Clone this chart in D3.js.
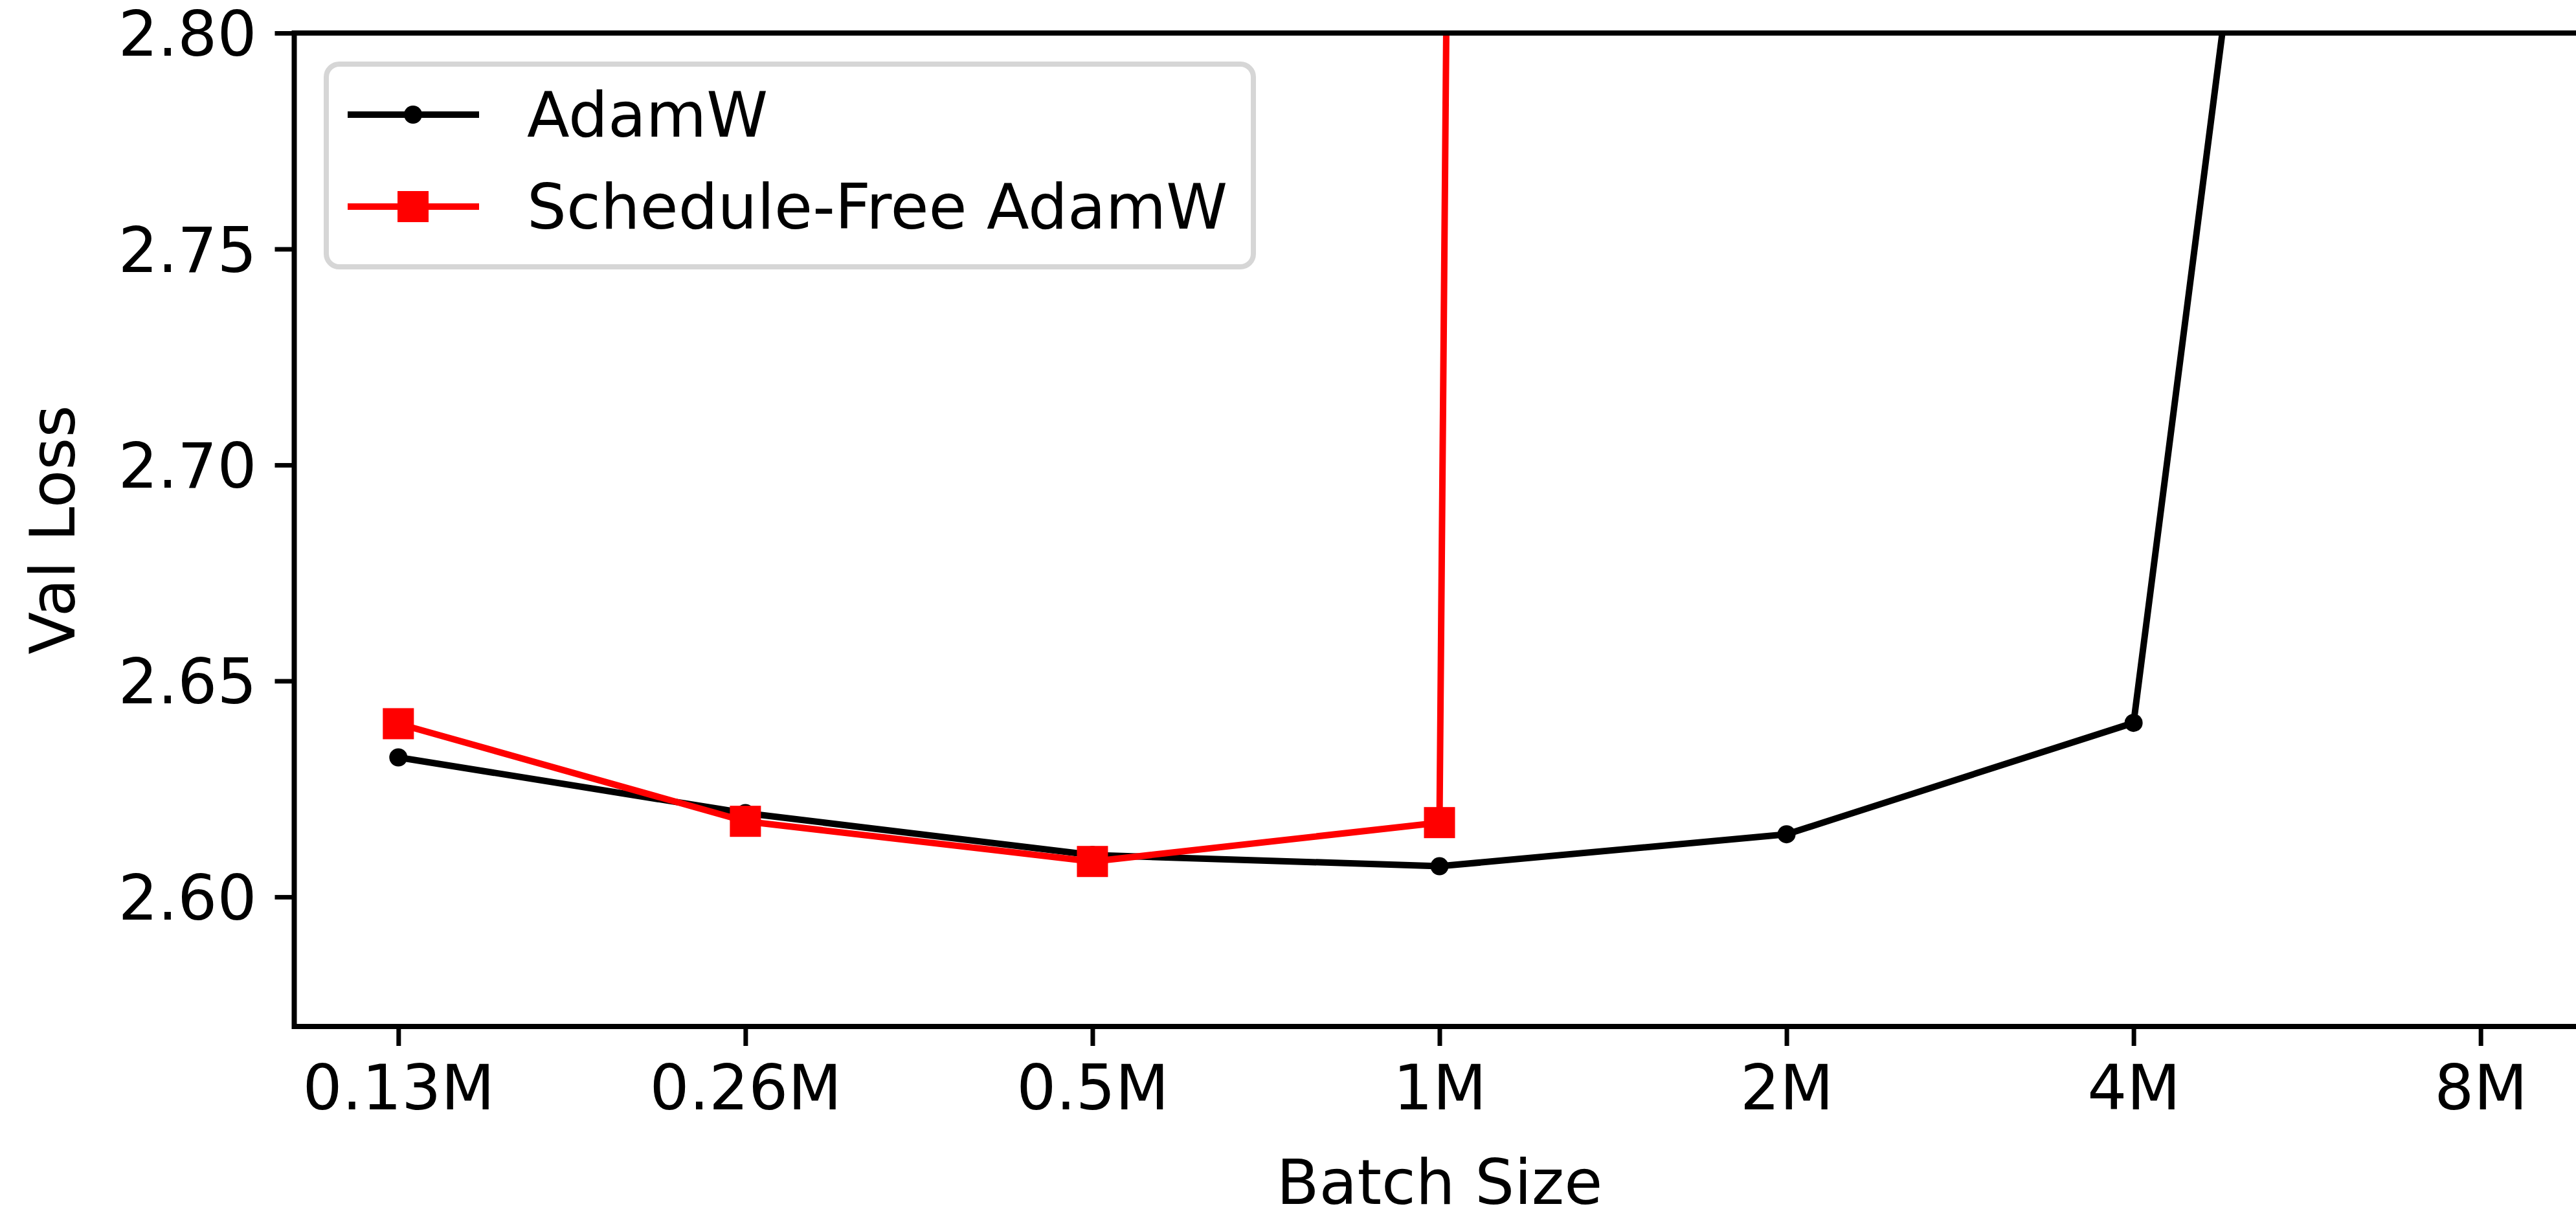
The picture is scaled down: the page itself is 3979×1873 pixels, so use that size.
<!DOCTYPE html>
<html>
<head>
<meta charset="utf-8">
<script src="https://cdn.jsdelivr.net/npm/d3@7"></script>
<style>
  html, body { margin: 0; padding: 0; background: #fff; }
  svg { display: block; }
  text { font-family: "DejaVu Sans", sans-serif; }
</style>
</head>
<body>
<svg id="chart" width="3979" height="1873"></svg>
<script>
// ---- data ----
const categories = ["0.13M", "0.26M", "0.5M", "1M", "2M", "4M", "8M"];
const adamwValues = [2.6323, 2.6194, 2.6097, 2.6071, 2.6145, 2.6403, 3.265];
const sfAdamwValues = [2.6401, 2.6175, 2.6082, 2.6172, 12.0];
const yTicks = [2.60, 2.65, 2.70, 2.75, 2.80];
const seriesNames = ["AdamW", "Schedule-Free AdamW"];

(function () {
// ---- layout ----
const W = 3979, H = 1873;
const pL = 454.5, pR = 3992.5, pT = 51, pB = 1585;
const fs = 96;

const svg = d3.select("#chart");
svg.append("rect").attr("width", W).attr("height", H).attr("fill", "#fff");

const x = d3.scaleLinear().domain([-0.3, categories.length - 1 + 0.3]).range([pL, pR]);
const y = d3.scaleLinear().domain([2.57, 2.80]).range([pB, pT]);

svg.append("defs").append("clipPath").attr("id", "plotclip")
  .append("rect").attr("x", pL).attr("y", pT).attr("width", pR - pL).attr("height", pB - pT);

const plot = svg.append("g").attr("clip-path", "url(#plotclip)");

const line = d3.line().x((d, i) => x(i)).y(d => y(d));

// AdamW
plot.append("path").datum(adamwValues).attr("d", line)
  .attr("fill", "none").attr("stroke", "#000").attr("stroke-width", 10)
  .attr("stroke-linejoin", "round").attr("stroke-linecap", "butt");
// Schedule-Free AdamW
plot.append("path").datum(sfAdamwValues).attr("d", line)
  .attr("fill", "none").attr("stroke", "#ff0000").attr("stroke-width", 10)
  .attr("stroke-linejoin", "round").attr("stroke-linecap", "butt");

// markers
plot.selectAll(".dot").data(adamwValues).enter().append("circle")
  .attr("cx", (d, i) => x(i)).attr("cy", d => y(d)).attr("r", 14).attr("fill", "#000");
const sq = 48;
plot.selectAll(".sq").data(sfAdamwValues).enter().append("rect")
  .attr("x", (d, i) => x(i) - sq / 2).attr("y", d => y(d) - sq / 2)
  .attr("width", sq).attr("height", sq).attr("fill", "#ff0000");

// ---- axes ----
const xAxis = d3.axisBottom(x)
  .tickValues(d3.range(categories.length))
  .tickFormat(i => categories[i])
  .tickSizeInner(30).tickSizeOuter(0).tickPadding(30);
const gx = svg.append("g").attr("transform", `translate(0,${pB})`).call(xAxis);
gx.select(".domain").remove();
gx.selectAll(".tick line").attr("stroke", "#000").attr("stroke-width", 7);
gx.selectAll(".tick text").attr("font-size", fs).attr("fill", "#000")
  .attr("font-family", "DejaVu Sans").attr("dy", "0.71em");

const yAxis = d3.axisLeft(y)
  .tickValues(yTicks)
  .tickFormat(d3.format(".2f"))
  .tickSizeInner(30).tickSizeOuter(0).tickPadding(28);
const gy = svg.append("g").attr("transform", `translate(${pL},0)`).call(yAxis);
gy.select(".domain").remove();
gy.selectAll(".tick line").attr("stroke", "#000").attr("stroke-width", 7);
gy.selectAll(".tick text").attr("font-size", fs).attr("fill", "#000")
  .attr("font-family", "DejaVu Sans").attr("dy", "0.36em");

// spines
svg.append("rect").attr("x", pL).attr("y", pT).attr("width", pR - pL).attr("height", pB - pT)
  .attr("fill", "none").attr("stroke", "#000").attr("stroke-width", 8).attr("stroke-linejoin", "miter");

// axis labels
svg.append("text").attr("x", (pL + pR) / 2).attr("y", 1859)
  .attr("text-anchor", "middle").attr("font-size", fs).attr("fill", "#000").text("Batch Size");
svg.append("text").attr("transform", `translate(115,${(pT + pB) / 2}) rotate(-90)`)
  .attr("text-anchor", "middle").attr("font-size", fs).attr("fill", "#000").text("Val Loss");

// ---- legend ----
const lg = svg.append("g");
lg.append("rect").attr("x", 504).attr("y", 99).attr("width", 1432).attr("height", 313)
  .attr("rx", 20).attr("ry", 20)
  .attr("fill", "#fff").attr("fill-opacity", 0.8)
  .attr("stroke", "#d6d6d6").attr("stroke-width", 8);
const rows = [177, 319];
seriesNames.forEach((name, i) => {
  const col = i === 0 ? "#000" : "#ff0000";
  lg.append("line").attr("x1", 537).attr("x2", 740).attr("y1", rows[i]).attr("y2", rows[i])
    .attr("stroke", col).attr("stroke-width", 10);
  if (i === 0) {
    lg.append("circle").attr("cx", 638).attr("cy", rows[i]).attr("r", 14).attr("fill", col);
  } else {
    lg.append("rect").attr("x", 638 - sq / 2).attr("y", rows[i] - sq / 2)
      .attr("width", sq).attr("height", sq).attr("fill", col);
  }
  lg.append("text").attr("x", 814).attr("y", rows[i] + 34)
    .attr("font-size", fs).attr("fill", "#000").text(name);
});
})();
</script>
</body>
</html>
